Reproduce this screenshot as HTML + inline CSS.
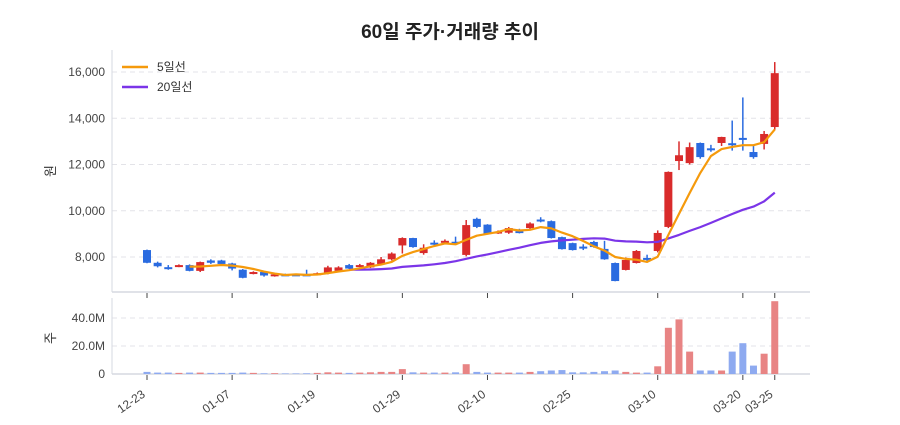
<!DOCTYPE html>
<html><head><meta charset="utf-8">
<style>
body{margin:0;background:#fff;width:900px;height:420px;overflow:hidden;font-family:"Liberation Sans","Noto Sans CJK KR",sans-serif;}
svg text{font-family:"Liberation Sans","Noto Sans CJK KR",sans-serif;}
</style></head><body>
<svg id="s" width="900" height="420" xmlns="http://www.w3.org/2000/svg"></svg>
<script>
const D=[[8300,7750,8320,7730],[7750,7600,7800,7550],[7560,7520,7650,7450],[7600,7650,7680,7560],[7650,7400,7680,7380],[7400,7780,7800,7350],[7850,7750,7900,7700],[7850,7700,7880,7680],[7720,7500,7750,7420],[7450,7100,7480,7080],[7300,7350,7380,7250],[7350,7200,7380,7150],[7220,7250,7300,7150],[7250,7200,7280,7180],[7250,7230,7280,7180],[7250,7240,7450,7230],[7250,7300,7330,7220],[7300,7550,7620,7250],[7400,7550,7600,7350],[7650,7500,7700,7480],[7600,7650,7700,7560],[7550,7750,7780,7520],[7700,7900,8000,7650],[7900,8150,8200,7850],[8500,8820,8850,8150],[8820,8430,8830,8400],[8170,8400,8550,8100],[8620,8580,8720,8500],[8650,8700,8760,8600],[8660,8640,8880,8600],[8090,9380,9600,8030],[9650,9300,9700,9250],[9400,9000,9420,8980],[9050,9100,9150,9000],[9050,9250,9300,9000],[9120,9080,9220,9020],[9250,9450,9500,9200],[9620,9580,9720,9500],[9550,8820,9580,8800],[8860,8340,8880,8320],[8600,8300,8620,8280],[8450,8420,8550,8300],[8650,8430,8700,8400],[8350,7900,8700,7880],[7740,6960,7760,6950],[7440,7870,7980,7420],[7740,8260,8300,7720],[7960,7940,8100,7800],[8260,9040,9150,8200],[9300,11680,11700,9250],[12150,12400,13000,11760],[12060,12750,12950,12000],[12930,12320,12950,12250],[12700,12660,12850,12550],[12930,13190,13200,12800],[12920,12880,13900,12600],[13150,13120,14900,12600],[12540,12320,12800,12250],[12890,13320,13450,12650],[13620,15950,16430,13500]];
const V=[1.5,1,1,.8,1,1,.8,.8,.8,1,.8,.5,.6,.4,.4,.5,.8,1.2,1,.8,1,1.2,1.5,1.5,3.5,1.2,1,1,1,1.2,7,1.5,1,1,1,1,1.5,2,2.5,2.8,1.2,1.2,1.5,2,2.5,1.5,1,1,5.5,33,39,16,2.5,2.5,2.5,16,22,6,14.5,52];
const X=i=>147+i*10.64, Y=v=>257-(v-8000)*0.023125, VY=m=>374-m*1.4;
let s='';
s+=`<text x="450" y="38" text-anchor="middle" font-size="19" font-weight="bold" fill="#222">60일 주가·거래량 추이</text>`;
for(const v of [8000,10000,12000,14000,16000]){const y=Y(v);s+=`<line x1="112" x2="810" y1="${y}" y2="${y}" stroke="#e3e3e8" stroke-dasharray="5,4"/><text x="105" y="${y+4}" text-anchor="end" font-size="12" fill="#444">${v.toLocaleString('en-US')}</text>`;}
for(const m of [0,20,40]){const y=VY(m);if(m)s+=`<line x1="112" x2="810" y1="${y}" y2="${y}" stroke="#e3e3e8" stroke-dasharray="5,4"/>`;s+=`<text x="105" y="${y+4}" text-anchor="end" font-size="12" fill="#444">${m?m.toFixed(1)+'M':'0'}</text>`;}
s+=`<line x1="112" x2="112" y1="50" y2="292" stroke="#d6d9e0"/><line x1="112" x2="810" y1="292" y2="292" stroke="#d6d9e0" stroke-width="1.5"/>`;
s+=`<line x1="112" x2="112" y1="298" y2="374" stroke="#d6d9e0"/><line x1="112" x2="810" y1="374" y2="374" stroke="#d6d9e0" stroke-width="1.5"/>`;
s+=`<text transform="translate(55,171) rotate(-90)" text-anchor="middle" font-size="13" fill="#333">원</text>`;
s+=`<text transform="translate(55,338) rotate(-90)" text-anchor="middle" font-size="13" fill="#333">주</text>`;
const T=[[0,'12-23'],[8,'01-07'],[16,'01-19'],[24,'01-29'],[32,'02-10'],[40,'02-25'],[48,'03-10'],[56,'03-20'],[59,'03-25']];
for(const [i,l] of T){const x=X(i);s+=`<line x1="${x}" x2="${x}" y1="293" y2="298" stroke="#444"/><line x1="${x}" x2="${x}" y1="375" y2="380" stroke="#444"/><text transform="translate(${x-1},396) rotate(-35)" text-anchor="end" font-size="12" fill="#444">${l}</text>`;}
V.forEach((m,i)=>{const d=D[i];const c=d[1]>=d[0]?'#e88484':'#8eaaf0';s+=`<rect x="${X(i)-3.5}" y="${VY(m)}" width="7" height="${m*1.4}" fill="${c}"/>`;});
D.forEach((d,i)=>{const [o,c,h,l]=d;const up=c>=o;const col=up?'#d92b2b':'#2a6be0';const x=X(i);const t=Y(Math.max(o,c)),b=Y(Math.min(o,c));s+=`<line x1="${x}" x2="${x}" y1="${Y(h)}" y2="${Y(l)}" stroke="${col}" stroke-width="1.5"/><rect x="${x-4}" y="${t}" width="8" height="${Math.max(b-t,2)}" fill="${col}"/>`;});
function ma(n){let p=[];for(let i=n-1;i<60;i++){let a=0;for(let k=0;k<n;k++)a+=D[i-k][1];p.push(X(i).toFixed(1)+','+Y(a/n).toFixed(1));}return p.join(' ');}
s+=`<polyline points="${ma(20)}" fill="none" stroke="#7b35e8" stroke-width="2.2" stroke-linejoin="round"/>`;
s+=`<polyline points="${ma(5)}" fill="none" stroke="#f59a0c" stroke-width="2.2" stroke-linejoin="round"/>`;
s+=`<line x1="122" x2="148" y1="67" y2="67" stroke="#f59a0c" stroke-width="2.5"/><text x="157" y="71" font-size="12" fill="#333">5일선</text>`;
s+=`<line x1="122" x2="148" y1="87" y2="87" stroke="#7b35e8" stroke-width="2.5"/><text x="157" y="91" font-size="12" fill="#333">20일선</text>`;
document.getElementById('s').innerHTML=s;
</script>
</body></html>
